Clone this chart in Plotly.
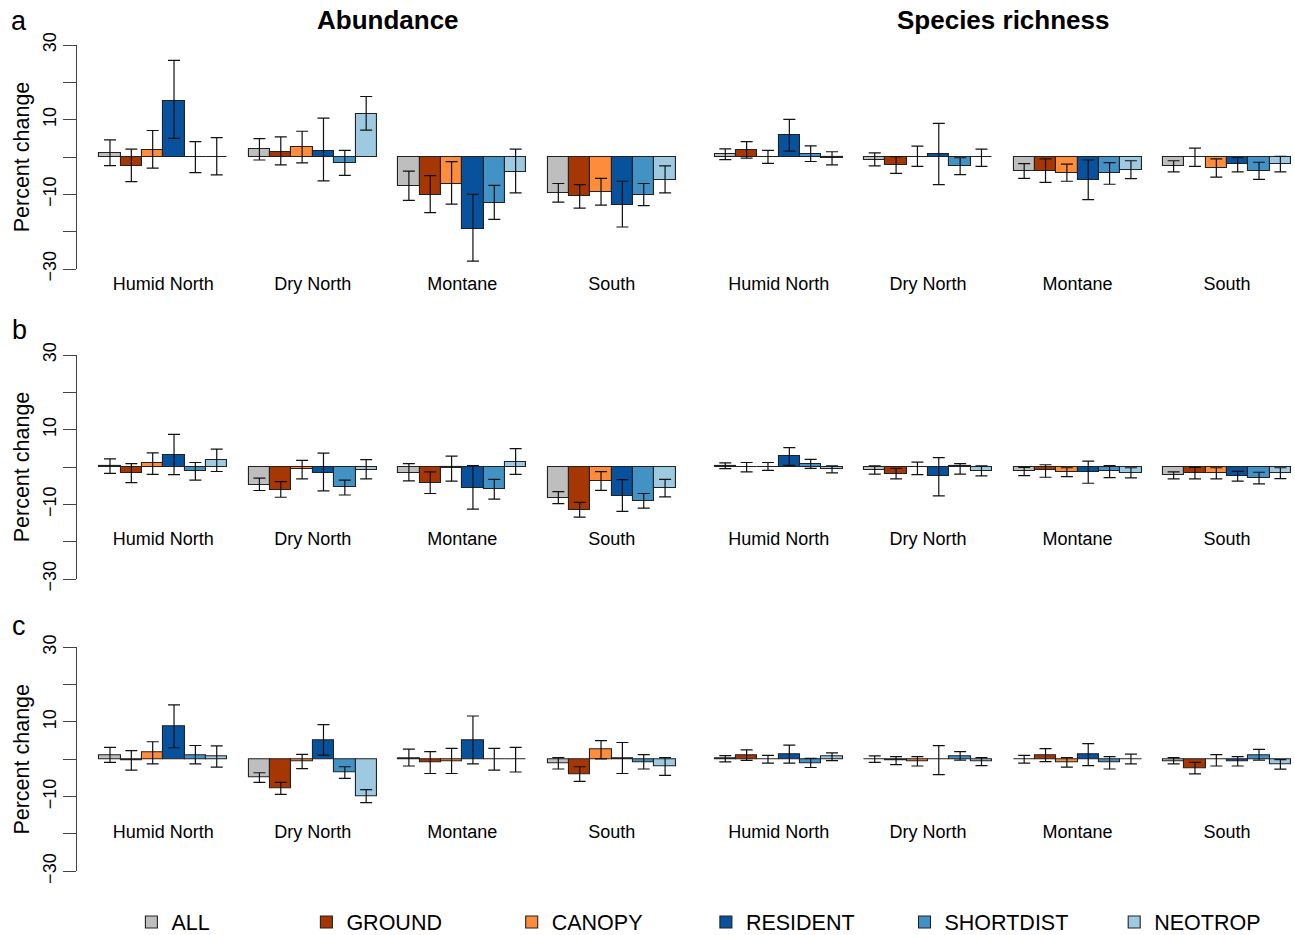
import plotly.graph_objects as go

# ---------------- data ----------------
regions = ["Humid North", "Dry North", "Montane", "South"]
guilds = ["ALL", "GROUND", "CANOPY", "RESIDENT", "SHORTDIST", "NEOTROP"]
colors = ["#BEBEBE", "#A63603", "#FD8D3C", "#08519C", "#4292C6", "#9ECAE1"]
y_tick_vals = [-30, -20, -10, 0, 10, 20, 30]
y_tick_text = ["\u221230", "", "\u221210", "", "10", "", "30"]
panel_letters = ["a", "b", "c"]
col_titles = ["Abundance", "Species richness"]

# rows of each table = regions, columns = guilds
a_abund_mean = [[1.1, -2.3, 2.0, 15.0, -0.1, 0.1],
                [2.05, 1.4, 2.6, 1.7, -1.7, 11.6],
                [-7.8, -10.1, -7.1, -19.4, -12.2, -3.9],
                [-9.6, -10.5, -9.4, -12.8, -10.1, -6.2]]
a_abund_low = [[-2.3, -6.6, -3.0, 5.0, -4.2, -4.8],
               [-0.8, -2.1, -1.6, -6.4, -4.9, 7.2],
               [-11.6, -14.9, -12.6, -27.9, -16.7, -9.6],
               [-12.1, -13.7, -12.9, -18.75, -13.0, -9.6]]
a_abund_high = [[4.6, 2.1, 7.1, 25.9, 4.1, 5.2],
                [4.9, 5.4, 6.9, 10.4, 1.8, 16.2],
                [-3.8, -5.0, -1.25, -10.0, -7.6, 2.1],
                [-7.1, -7.4, -5.7, -6.5, -7.1, -2.4]]

a_rich_mean = [[0.75, 1.9, 0.1, 5.8, 0.9, -0.4],
               [-0.7, -2.1, 0.1, 0.75, -2.4, 0.1],
               [-3.7, -3.7, -4.2, -6.2, -4.4, -3.4],
               [-2.4, 0.1, -2.9, -1.9, -3.7, -1.8]]
a_rich_low = [[-0.7, -0.3, -1.7, 1.6, -1.2, -2.1],
              [-2.4, -4.4, -2.5, -7.4, -4.7, -2.5],
              [-5.7, -6.8, -6.5, -11.4, -7.3, -5.8],
              [-4.0, -2.5, -5.4, -4.0, -6.0, -4.0]]
a_rich_high = [[2.2, 4.1, 1.8, 10.1, 3.0, 1.4],
               [1.1, 0.1, 2.9, 9.0, -0.2, 2.1],
               [-1.8, -0.5, -1.9, -0.8, -1.5, -1.0],
               [-1.0, 2.4, -0.5, -0.2, -1.4, 0.2]]

b_abund_mean = [[0.2, -1.7, 1.0, 3.2, -1.2, 1.8],
                [-4.7, -6.1, -0.45, -1.5, -5.4, -0.7],
                [-1.5, -4.2, -0.3, -5.5, -6.0, 1.4],
                [-8.2, -11.4, -3.75, -7.8, -9.2, -5.7]]
b_abund_low = [[-1.7, -4.2, -2.0, -2.05, -3.5, -1.2],
               [-6.3, -8.1, -3.2, -6.4, -7.5, -3.2],
               [-3.7, -7.1, -3.8, -11.3, -8.6, -2.0],
               [-9.8, -13.4, -6.25, -11.9, -11.0, -8.0]]
b_abund_high = [[2.2, 0.9, 3.8, 8.75, 1.2, 4.8],
                [-3.0, -3.9, 1.8, 3.7, -3.5, 2.0],
                [0.9, -1.3, 2.9, 0.4, -3.3, 4.9],
                [-6.6, -9.5, -1.25, -3.4, -7.1, -3.3]]

b_rich_mean = [[0.35, -0.1, 0.1, 2.85, 0.8, -0.5],
               [-0.7, -1.8, 0.1, -2.5, 0.3, -1.1],
               [-1.15, -0.9, -1.3, -1.3, -1.0, -1.6],
               [-2.2, -1.7, -1.5, -2.4, -2.85, -1.6]]
b_rich_low = [[-0.45, -1.3, -0.9, 0.45, -0.35, -1.6],
              [-1.9, -3.2, -2.05, -7.75, -1.9, -2.4],
              [-2.3, -2.75, -2.6, -4.35, -2.85, -2.9],
              [-3.2, -3.2, -3.2, -3.8, -4.5, -3.1]]
b_rich_high = [[1.1, 1.2, 1.2, 5.2, 2.05, 0.3],
               [0.3, -0.35, 1.3, 2.5, 0.9, 0.3],
               [-0.1, 0.6, -0.2, 1.6, 0.35, -0.2],
               [-1.3, -0.1, -0.2, -1.15, -1.4, -0.2]]

c_abund_mean = [[1.15, -0.3, 1.8, 8.75, 1.15, 0.7],
                [-4.8, -7.9, -0.45, 5.2, -3.6, -9.8],
                [0.35, -0.9, -0.45, 5.1, 0.1, -0.1],
                [-1.0, -4.0, 2.6, 0.35, -0.8, -1.95]]
c_abund_low = [[-0.8, -2.9, -1.25, 3.1, -1.25, -2.1],
               [-6.2, -9.4, -2.5, 1.1, -5.1, -11.6],
               [-1.8, -3.8, -3.8, -1.2, -2.9, -3.4],
               [-2.6, -5.9, 0.1, -3.8, -2.6, -4.3]]
c_abund_high = [[3.2, 2.3, 4.7, 14.6, 3.7, 3.6],
                [-3.6, -6.2, 1.3, 9.3, -2.0, -8.1],
                [2.7, 2.05, 2.9, 11.6, 2.9, 3.2],
                [0.45, -2.0, 5.0, 4.5, 1.25, 0.45]]

c_rich_mean = [[0.2, 1.15, 0.1, 1.35, -1.0, 0.7],
               [0.1, -0.2, -0.45, -0.1, 0.9, -0.6],
               [0.1, 1.05, -0.8, 1.25, -0.9, 0.1],
               [-0.45, -2.3, 0.1, -0.45, 1.05, -1.35]]
c_rich_low = [[-0.7, -0.3, -1.05, -1.05, -2.2, -0.35],
              [-0.8, -1.4, -1.8, -4.1, -0.2, -1.7],
              [-1.05, -0.6, -2.1, -1.7, -2.6, -1.25],
              [-1.25, -3.9, -1.8, -1.8, -0.2, -2.65]]
c_rich_high = [[1.0, 2.5, 1.05, 3.8, 0.25, 1.7],
               [0.9, 0.7, 0.7, 3.65, 2.05, 0.45],
               [1.05, 2.85, 0.45, 4.2, 0.7, 1.4],
               [0.45, -0.8, 1.25, 0.7, 2.65, -0.1]]

panels = [
    (a_abund_mean, a_abund_low, a_abund_high),
    (a_rich_mean, a_rich_low, a_rich_high),
    (b_abund_mean, b_abund_low, b_abund_high),
    (b_rich_mean, b_rich_low, b_rich_high),
    (c_abund_mean, c_abund_low, c_abund_high),
    (c_rich_mean, c_rich_low, c_rich_high),
]

# ---------------- layout geometry (pixels) ----------------
W, H = 1295, 935
FONT = "Liberation Sans, Arial, Helvetica, sans-serif"
U = 21.35                      # pixels per bar unit
col_origin = [77.95, 693.25]   # pixel of bar-unit 0 in each column
col_dom = [(77.0, 690.0), (700.0, 1295.0)]
row_dom = [(45.0, 269.0), (355.0, 579.0), (647.3, 871.3)]
row_label_line = [269.0, 524.0, 817.0]   # where the region names hang
letter_y = [21, 330, 626]
legend_sq = [145.4, 320.4, 525.7, 719.9, 918.5, 1128.2]
GROUP_STEP = 7                 # 6 bars + 1 gap


def px_x(v):
    return v / W


def px_y(v):
    return 1 - v / H


fig = go.Figure()
layout = dict(
    width=W, height=H,
    margin=dict(l=0, r=0, t=0, b=0, autoexpand=False),
    paper_bgcolor="white", plot_bgcolor="white",
    barmode="overlay", bargap=0,
    font=dict(family=FONT, color="black"),
    showlegend=True,
)

for p, (mean, low, high) in enumerate(panels):
    row, col = divmod(p, 2)
    sfx = "" if p == 0 else str(p + 1)
    xa, ya = "x" + sfx, "y" + sfx
    for i, g in enumerate(guilds):
        xs = [1 + GROUP_STEP * r + i + 0.5 for r in range(len(regions))]
        ys = [mean[r][i] for r in range(len(regions))]
        plus = [high[r][i] - mean[r][i] for r in range(len(regions))]
        minus = [mean[r][i] - low[r][i] for r in range(len(regions))]
        fig.add_trace(go.Bar(
            x=xs, y=ys, width=1, name=g,
            marker=dict(color=colors[i], line=dict(color="#222222", width=1.1)),
            error_y=dict(type="data", symmetric=False, array=plus, arrayminus=minus,
                         color="#111111", thickness=1.2, width=6),
            xaxis=xa, yaxis=ya,
            legendgroup=g,
            showlegend=(p == 0),
            legend=("legend" if i == 0 else "legend%d" % (i + 1)),
        ))
    l, r = col_dom[col]
    o = col_origin[col]
    top, bot = row_dom[row]
    layout["xaxis" + sfx] = dict(
        domain=[px_x(l), px_x(r)],
        range=[(l - o) / U, (r - o) / U],
        anchor="free", position=px_y(row_label_line[row]),
        tickvals=[1 + GROUP_STEP * k + 3 for k in range(len(regions))],
        ticktext=regions,
        tickfont=dict(size=18, family=FONT, color="black"),
        showline=False, showgrid=False, zeroline=False, ticks="",
        ticklabelstandoff=2,
        automargin=False, fixedrange=True,
    )
    yax = dict(
        domain=[px_y(bot), px_y(top)],
        range=[-30, 30],
        anchor=xa,
        showgrid=False, zeroline=False,
        automargin=False, fixedrange=True,
    )
    if col == 0:
        yax.update(
            showline=True, linecolor="#444444", linewidth=1.3,
            ticks="outside", ticklen=13, tickwidth=1.3, tickcolor="#444444",
            tickvals=y_tick_vals, ticktext=y_tick_text, tickangle=-90,
            tickfont=dict(size=18, family=FONT, color="black"),
            title=dict(text="Percent change", standoff=4,
                       font=dict(size=21.5, family=FONT, color="black")),
        )
    else:
        yax.update(visible=False)
    layout["yaxis" + sfx] = yax

# legends: one per guild so each entry sits at its own position
for i, g in enumerate(guilds):
    key = "legend" if i == 0 else "legend%d" % (i + 1)
    layout[key] = dict(
        x=px_x(legend_sq[i] - 14), y=px_y(922), xanchor="left", yanchor="middle",
        orientation="h", font=dict(size=21.5, family=FONT, color="black"),
        bgcolor="rgba(0,0,0,0)", borderwidth=0, itemwidth=30,
        itemclick=False, itemdoubleclick=False,
    )

annotations = []
for c, t in enumerate(col_titles):
    o = col_origin[c]
    centre = o + U * 14.5  # centre of the bar extent
    annotations.append(dict(
        text="<b>%s</b>" % t, x=px_x(centre), y=px_y(20), xref="paper", yref="paper",
        xanchor="center", yanchor="middle", showarrow=False,
        font=dict(size=26, family=FONT, color="black")))
for k, letter in enumerate(panel_letters):
    annotations.append(dict(
        text=letter, x=px_x(19), y=px_y(letter_y[k]), xref="paper", yref="paper",
        xanchor="center", yanchor="middle", showarrow=False,
        font=dict(size=27, family=FONT, color="black")))
layout["annotations"] = annotations

fig.update_layout(**layout)
fig.write_html("out.html",
               config={"displayModeBar": False},
               post_script="document.body.style.margin='0';document.body.style.overflow='hidden';")
